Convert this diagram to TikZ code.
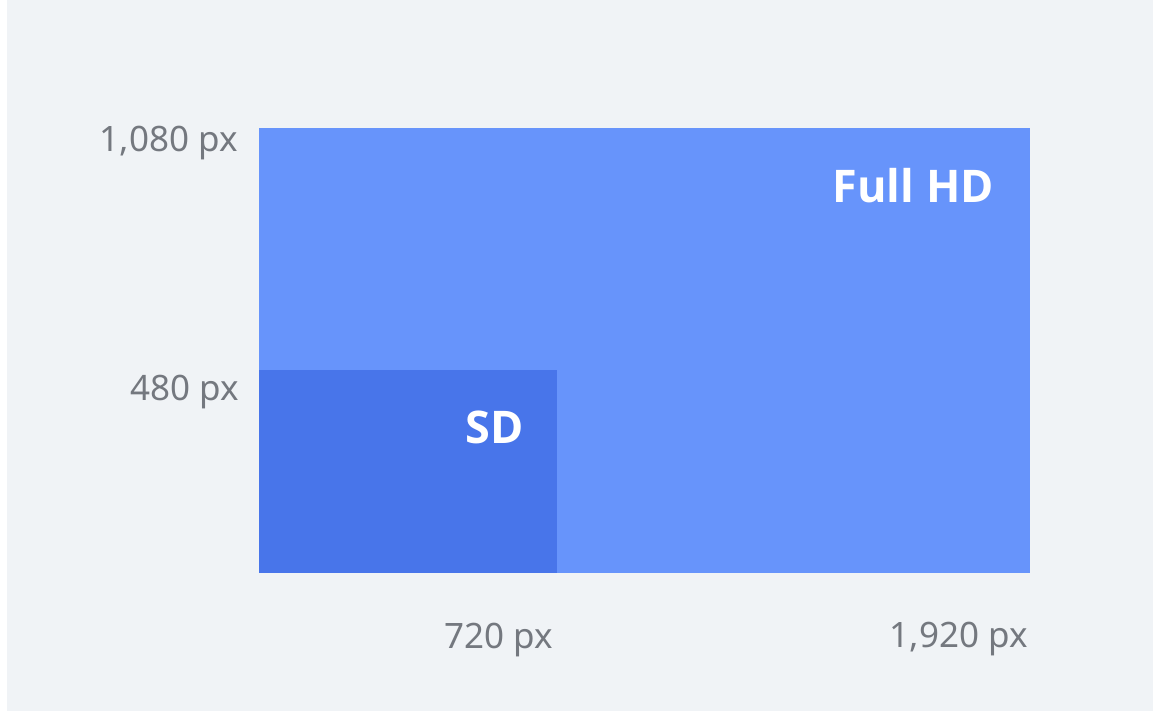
\documentclass[tikz,border=0pt]{standalone}
\usepackage{fontspec}
\setmainfont{Noto Sans}
\newfontfamily\boldfam{Open Sans}
\definecolor{bggray}{HTML}{F0F3F6}
\definecolor{hdblue}{HTML}{6794FB}
\definecolor{sdblue}{HTML}{4875EA}
\definecolor{labgray}{HTML}{74787F}
\tikzset{
  axlabel/.style={inner sep=0pt, text=labgray, font=\fontsize{35}{42}\selectfont},
  boxlabel/.style={inner sep=0pt, text=white, font=\boldfam\fontsize{45}{54}\selectfont\bfseries},
}
\begin{document}
\begin{tikzpicture}[x=1pt,y=-1pt]
\useasboundingbox (0,0) rectangle (1160,711);
\fill[white] (0,0) rectangle (1160,711);
\fill[bggray] (7,0) rectangle (1153,711);
\fill[hdblue] (259,128) rectangle (1030,573);
\fill[sdblue] (259,370) rectangle (557,573);
\node[boxlabel, anchor=base east] (hd) at (994,203) {Full HD};
\node[boxlabel, anchor=base east] (sd) at (524,443) {SD};
\node[axlabel, anchor=base east] (y1080) at (238,152) {1,080 px};
\node[axlabel, anchor=base east] (y480) at (239,401) {480 px};
\node[axlabel, anchor=base east] (x720) at (553,648) {720 px};
\node[axlabel, anchor=base east] (x1920) at (1028,647) {1,920 px};
\end{tikzpicture}
\end{document}
